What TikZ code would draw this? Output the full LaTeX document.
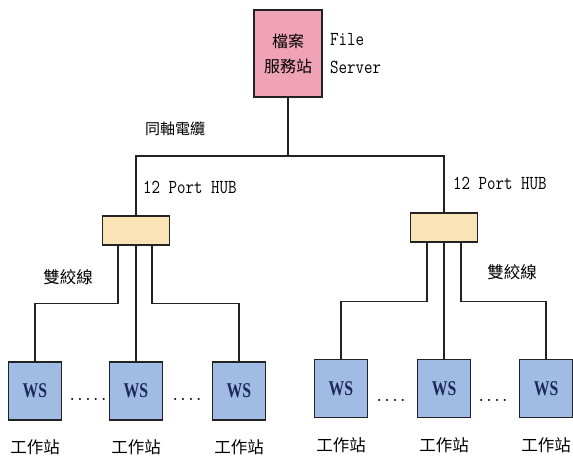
\documentclass[tikz,border=0pt]{standalone}
\usepackage{fontspec}
\setmainfont{Liberation Serif}
\newfontfamily\cjk{Noto Sans CJK TC}
\newfontfamily\wsfam[FakeStretch=0.75]{Liberation Serif}
\usetikzlibrary{calc}

\definecolor{linec}{RGB}{35,35,35}
\definecolor{pinkc}{RGB}{240,162,182}
\definecolor{hubc}{RGB}{250,228,182}
\definecolor{wsc}{RGB}{160,188,228}
\definecolor{wstext}{RGB}{30,40,90}

\tikzset{
  box/.style={draw=linec, line width=1.3pt, inner sep=0pt},
  serverbox/.style={box, fill=pinkc, minimum width=68pt, minimum height=87pt,
    align=center, font=\cjk\fontsize{16}{25}\selectfont},
  hubbox/.style={box, fill=hubc, minimum width=67pt, minimum height=29pt},
  wsbox/.style={box, fill=wsc, minimum width=53pt, minimum height=58pt,
    text=wstext, font=\wsfam\bfseries\fontsize{21}{24}\selectfont},
  wire/.style={line width=1.3pt, draw=linec},
  monolbl/.style={font=\ttfamily\fontsize{16.5}{23.5}\selectfont, anchor=west,
    inner sep=0pt, align=left, yscale=1.2, transform shape},
  cjklbl/.style={font=\cjk\fontsize{16.5}{18}\selectfont, inner sep=0pt},
  dotlbl/.style={font=\ttfamily\bfseries\fontsize{15}{16}\selectfont, inner sep=0pt},
}

\begin{document}
\begin{tikzpicture}[x=1pt, y=-1pt]
  \useasboundingbox (0,0) rectangle (573,459);

  % file server
  \node[serverbox] (server) at (288,53.5) {檔案\\服務站};
  \node[monolbl] (fslbl) at (330,53.5) {File\\Server};

  % hubs
  \node[hubbox] (hubL) at (136,230.5) {};
  \node[hubbox] (hubR) at (444,227.5) {};
  \coordinate (bus) at (288,156);

  % workstations
  \foreach \n/\x/\y in {1/35/391, 2/136/391, 3/239/391, 4/341/388.5, 5/444/388.5, 6/546/388.5}
    \node[wsbox] (ws\n) at (\x,\y) {WS};

  % coaxial backbone
  \draw[wire] (server.south) -- (bus);
  \draw[wire] (hubL.north) -- (hubL.north |- bus) -- (hubR.north |- bus) -- (hubR.north);

  % twisted-pair drops, left hub
  \draw[wire] ([xshift=-18pt]hubL.south) -- ++(0,58) -| (ws1.north);
  \draw[wire] (hubL.south) -- (ws2.north);
  \draw[wire] ([xshift=16pt]hubL.south) -- ++(0,58) -| (ws3.north);

  % twisted-pair drops, right hub
  \draw[wire] ([xshift=-17pt]hubR.south) -- ++(0,59) -| (ws4.north);
  \draw[wire] (hubR.south) -- (ws5.north);
  \draw[wire] ([xshift=17pt]hubR.south) -- ++(0,59) -| (ws6.north);

  % labels
  \node[cjklbl, font=\cjk\fontsize{15}{18}\selectfont] (coax) at (175,129) {同軸電纜};
  \node[monolbl] (hubLlbl) at (143,187) {12 Port HUB};
  \node[monolbl] (hubRlbl) at (453,183) {12 Port HUB};
  \node[cjklbl] (tpL) at (68,277) {雙絞線};
  \node[cjklbl] (tpR) at (512,272) {雙絞線};

  \foreach \n/\x/\y in {1/35/447, 2/136/447, 3/239/447, 4/341/445, 5/444/445, 6/546/445}
    \node[cjklbl] (wsl\n) at (\x,\y) {工作站};

  \node[dotlbl] (dots1) at (88,399) {.....};
  \node[dotlbl] (dots2) at (187,399) {....};
  \node[dotlbl] (dots3) at (391,400) {....};
  \node[dotlbl] (dots4) at (493,400) {....};
\end{tikzpicture}
\end{document}
